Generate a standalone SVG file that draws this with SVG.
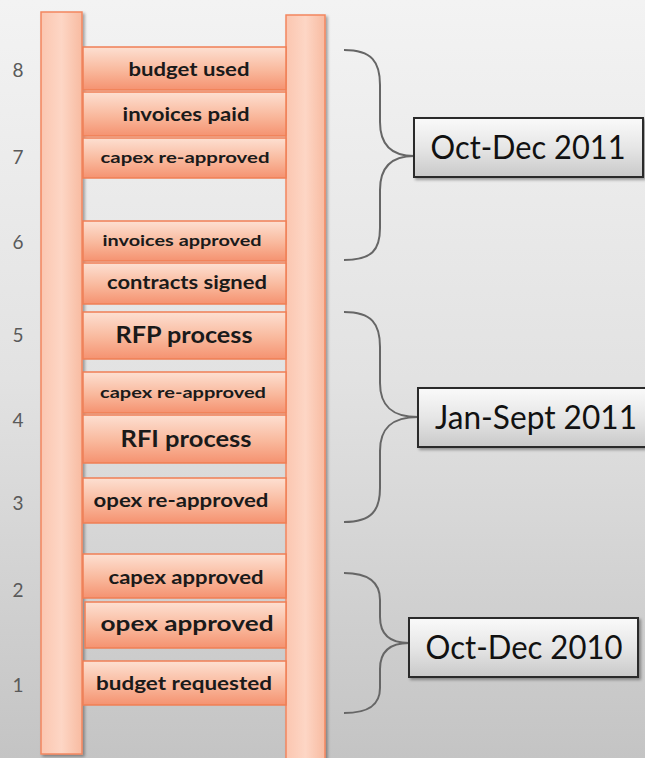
<svg xmlns="http://www.w3.org/2000/svg" width="645" height="758" viewBox="0 0 645 758">
<defs>
<linearGradient id="bg" x1="0" y1="0" x2="0" y2="1">
<stop offset="0" stop-color="#f3f3f3"/>
<stop offset="0.5" stop-color="#e2e2e2"/>
<stop offset="1" stop-color="#c4c4c4"/>
</linearGradient>
<linearGradient id="rung" x1="0" y1="0" x2="0" y2="1">
<stop offset="0" stop-color="#fde0d2"/>
<stop offset="0.55" stop-color="#f9b89c"/>
<stop offset="1" stop-color="#f59270"/>
</linearGradient>
<linearGradient id="rail" x1="0" y1="0" x2="1" y2="0">
<stop offset="0" stop-color="#fbc6b0"/>
<stop offset="0.5" stop-color="#fdd6c5"/>
<stop offset="1" stop-color="#f8bba1"/>
</linearGradient>
<linearGradient id="box" x1="0" y1="0" x2="0" y2="1">
<stop offset="0" stop-color="#fafafa"/>
<stop offset="0.5" stop-color="#e6e6e6"/>
<stop offset="1" stop-color="#c9c9c9"/>
</linearGradient>
<filter id="sh" x="-10%" y="-10%" width="130%" height="130%">
<feDropShadow dx="2" dy="2" stdDeviation="1.5" flood-color="#000" flood-opacity="0.35"/>
</filter>
</defs>
<style>
.rail{fill:url(#rail);stroke:#f3875f;stroke-width:1.5}
.rung{fill:url(#rung);stroke:#ef7f55;stroke-width:1.5}
.rt{font-family:Lato,"Open Sans","Liberation Sans",sans-serif;font-weight:bold;fill:#1a1a1a;text-anchor:middle}
.num{font-family:Lato,"Open Sans","Liberation Sans",sans-serif;font-size:19px;fill:#5a5a5a;text-anchor:middle}
.box{fill:url(#box);stroke:#2b2b2b;stroke-width:2}
.bt{font-family:Lato,"Open Sans","Liberation Sans",sans-serif;font-size:32px;fill:#111;text-anchor:middle}
.brace{fill:none;stroke:#666;stroke-width:2}
</style>
<rect x="0" y="0" width="645" height="758" fill="url(#bg)"/>

<g id="numbers">
<text class="num" x="18" y="77">8</text>
<text class="num" x="18" y="164">7</text>
<text class="num" x="18" y="249">6</text>
<text class="num" x="18" y="342">5</text>
<text class="num" x="18" y="427">4</text>
<text class="num" x="18" y="510">3</text>
<text class="num" x="18" y="597">2</text>
<text class="num" x="18" y="692">1</text>
</g>

<g id="rail-left"><rect class="rail" x="41" y="12" width="41" height="742" filter="url(#sh)"/></g>
<g id="rail-right"><rect class="rail" x="286" y="15" width="39" height="748" filter="url(#sh)"/></g>

<g id="rung-budget-used"><rect class="rung" x="83" y="47" width="203" height="43"/><text class="rt" x="189" y="76" font-size="18" textLength="121" lengthAdjust="spacingAndGlyphs">budget used</text></g>
<g id="rung-invoices-paid"><rect class="rung" x="83" y="92" width="203" height="44"/><text class="rt" x="186" y="121" font-size="18" textLength="127" lengthAdjust="spacingAndGlyphs">invoices paid</text></g>
<g id="rung-capex-reapproved-7"><rect class="rung" x="83" y="138" width="203" height="40"/><text class="rt" x="185" y="163" font-size="16" textLength="169" lengthAdjust="spacingAndGlyphs">capex re-approved</text></g>
<g id="rung-invoices-approved"><rect class="rung" x="83" y="221" width="203" height="40"/><text class="rt" x="182" y="246" font-size="16" textLength="159" lengthAdjust="spacingAndGlyphs">invoices approved</text></g>
<g id="rung-contracts-signed"><rect class="rung" x="83" y="263" width="203" height="41"/><text class="rt" x="187" y="289" font-size="18" textLength="160" lengthAdjust="spacingAndGlyphs">contracts signed</text></g>
<g id="rung-rfp-process"><rect class="rung" x="83" y="312" width="203" height="47"/><text class="rt" x="184" y="343" font-size="22" textLength="137" lengthAdjust="spacingAndGlyphs">RFP process</text></g>
<g id="rung-capex-reapproved-4"><rect class="rung" x="83" y="372" width="203" height="41"/><text class="rt" x="183" y="398" font-size="16" textLength="166" lengthAdjust="spacingAndGlyphs">capex re-approved</text></g>
<g id="rung-rfi-process"><rect class="rung" x="83" y="415" width="203" height="48"/><text class="rt" x="186" y="447" font-size="22" textLength="131" lengthAdjust="spacingAndGlyphs">RFI process</text></g>
<g id="rung-opex-reapproved"><rect class="rung" x="83" y="478" width="203" height="45"/><text class="rt" x="181" y="507" font-size="18" textLength="175" lengthAdjust="spacingAndGlyphs">opex re-approved</text></g>
<g id="rung-capex-approved"><rect class="rung" x="83" y="554" width="203" height="44"/><text class="rt" x="186" y="584" font-size="18" textLength="155" lengthAdjust="spacingAndGlyphs">capex approved</text></g>
<g id="rung-opex-approved"><rect class="rung" x="85" y="602" width="201" height="46"/><text class="rt" x="187" y="631" font-size="21" textLength="173" lengthAdjust="spacingAndGlyphs">opex approved</text></g>
<g id="rung-budget-requested"><rect class="rung" x="83" y="661" width="203" height="44"/><text class="rt" x="184" y="690" font-size="18" textLength="176" lengthAdjust="spacingAndGlyphs">budget requested</text></g>

<g id="connectors">
<path class="brace" d="M344,50 C372,50 380,62 380,85 L380,122 C380,145 392,156 414,156 C392,156 380,167 380,190 L380,228 C380,250 372,260 344,260"/>
<path class="brace" d="M344,312 C372,312 380,324 380,347 L380,383 C380,406 392,417 418,417 C392,417 380,428 380,451 L380,488 C380,510 372,522 344,522"/>
<path class="brace" d="M344,573 C370,573 380,584 380,600 L380,617 C380,634 390,643 409,643 C390,643 380,652 380,669 L380,688 C380,704 370,713 344,713"/>
</g>

<g id="label-oct-dec-2011"><rect class="box" x="414" y="118" width="229" height="59" filter="url(#sh)"/><text class="bt" x="528" y="159" textLength="195" lengthAdjust="spacingAndGlyphs">Oct-Dec 2011</text></g>
<g id="label-jan-sept-2011"><rect class="box" x="418" y="388" width="235" height="59" filter="url(#sh)"/><text class="bt" x="536" y="429" textLength="202" lengthAdjust="spacingAndGlyphs">Jan-Sept 2011</text></g>
<g id="label-oct-dec-2010"><rect class="box" x="409" y="618" width="229" height="59" filter="url(#sh)"/><text class="bt" x="524" y="659" textLength="197" lengthAdjust="spacingAndGlyphs">Oct-Dec 2010</text></g>
</svg>
